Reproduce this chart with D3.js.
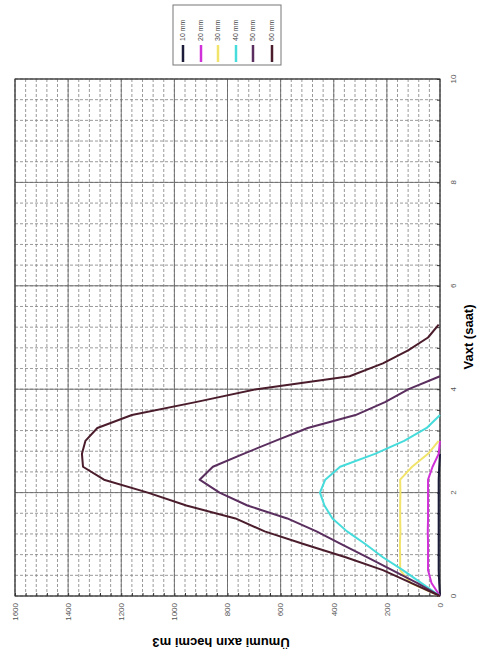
<!DOCTYPE html>
<html><head><meta charset="utf-8">
<script src="https://cdn.jsdelivr.net/npm/d3@7"></script>
<style>body{margin:0;background:#fff}svg{display:block}</style>
</head><body>
<svg id="c" width="479" height="660"></svg>
<script>
// Data (time in hours, total runoff volume in m3)
const hours = [0,0.25,0.5,0.75,1,1.25,1.5,1.75,2,2.25,2.5,2.75,3,3.25,3.5,3.75,4,4.25,4.5,4.75,5,5.25];
const s1 = [0,3,5,5,5,5,5,5,5,5,3,0,null,null,null,null,null,null,null,null,null,null];
const s2 = [0,32,45,45,45,46,45,45,45,45,28,5,0,null,null,null,null,null,null,null,null,null];
const s3 = [0,110,150,150,151,149,150,150,149,150,105,45,5,null,null,null,null,null,null,null,null,null];
const s4 = [0,70,140,215,280,350,405,435,452,432,376,245,135,50,0,null,null,null,null,null,null,null];
const s5 = [0,85,180,275,370,465,575,725,830,905,855,740,620,498,318,207,118,0,null,null,null,null];
const s6 = [0,107,215,355,511,660,770,955,1100,1265,1344,1348,1335,1290,1160,920,690,340,215,120,45,5];
const seriesNames = ["10 mm","20 mm","30 mm","40 mm","50 mm","60 mm"];
const seriesColors = ["#1c1c3a","#d030d8","#f2e46a","#46dcdc","#5a2e5e","#4a1c2c"];
const volumeTicks = [0,200,400,600,800,1000,1200,1400,1600];
const timeTicks = [0,2,4,6,8,10];

const series = [s1,s2,s3,s4,s5,s6];
const svg = d3.select("#c");
const L=15, R=440, T=79, B=596;
const x = d3.scaleLinear().domain([0,1600]).range([R,L]);   // volume
const y = d3.scaleLinear().domain([0,10]).range([B,T]);     // time

const minorV = d3.range(0,1600.1,40);
const minorT = d3.range(0,10.01,0.4);
const g = svg.append("g");
// minor grid
g.selectAll(".mv").data(minorV).join("line")
  .attr("x1",d=>x(d)).attr("x2",d=>x(d)).attr("y1",T).attr("y2",B)
  .attr("stroke","#808080").attr("stroke-width",0.8).attr("stroke-dasharray","3,2");
g.selectAll(".mt").data(minorT).join("line")
  .attr("y1",d=>y(d)).attr("y2",d=>y(d)).attr("x1",L).attr("x2",R)
  .attr("stroke","#808080").attr("stroke-width",0.8).attr("stroke-dasharray","3,2");
// major grid
g.selectAll(".Mv").data(volumeTicks).join("line")
  .attr("x1",d=>x(d)).attr("x2",d=>x(d)).attr("y1",T).attr("y2",B)
  .attr("stroke","#666").attr("stroke-width",0.9);
g.selectAll(".Mt").data(timeTicks).join("line")
  .attr("y1",d=>y(d)).attr("y2",d=>y(d)).attr("x1",L).attr("x2",R)
  .attr("stroke","#666").attr("stroke-width",0.9);

// axes (ticks inward)
const axB = svg.append("g").attr("transform",`translate(0,${B})`)
  .call(d3.axisBottom(x).tickValues(minorV).tickSize(-3).tickFormat(""));
axB.select(".domain").remove();
const axR = svg.append("g").attr("transform",`translate(${R},0)`)
  .call(d3.axisRight(y).tickValues(minorT).tickSize(-3).tickFormat(""));
axR.select(".domain").remove();
svg.selectAll(".tick line").attr("stroke","#333");

// frame
svg.append("rect").attr("x",L).attr("y",T).attr("width",R-L).attr("height",B-T)
  .attr("fill","none").attr("stroke","#333").attr("stroke-width",1);

// tick labels
svg.selectAll(".vl").data(volumeTicks).join("text")
  .attr("transform",d=>`translate(${x(d)},603) rotate(-90)`)
  .attr("text-anchor","end").attr("dy","0.35em")
  .attr("font-family","Liberation Sans, Arial, sans-serif").attr("font-size",8)
  .attr("fill","#555").text(d=>d);
svg.selectAll(".tl").data(timeTicks).join("text")
  .attr("transform",d=>`translate(453,${y(d)}) rotate(-90)`)
  .attr("text-anchor","middle").attr("dy","0.35em")
  .attr("font-family","Liberation Sans, Arial, sans-serif").attr("font-size",8)
  .attr("fill","#555").text(d=>d);

// lines
const line = d3.line().defined(d=>d[1]!==null).x(d=>x(d[1])).y(d=>y(d[0]));
series.forEach((s,i)=>{
  svg.append("path").datum(hours.map((h,j)=>[h,s[j]]))
    .attr("d",line).attr("fill","none").attr("stroke",seriesColors[i])
    .attr("stroke-width",2).attr("stroke-linejoin","round");
});

// axis titles
svg.append("text").attr("transform","translate(468,337) rotate(-90)")
  .attr("text-anchor","middle").attr("dy","0.35em")
  .attr("font-family","Liberation Sans, Arial, sans-serif").attr("font-weight","bold")
  .attr("font-size",13).text("Vaxt (saat)");
svg.append("text").attr("transform","translate(221,643) rotate(180)")
  .attr("text-anchor","middle").attr("dy","0.35em")
  .attr("font-family","Liberation Sans, Arial, sans-serif").attr("font-weight","bold")
  .attr("font-size",13).text("Ümumi axın həcmi m3");

// legend
const lg = svg.append("g");
lg.append("rect").attr("x",173).attr("y",5).attr("width",108).attr("height",60)
  .attr("fill","#fff").attr("stroke","#777").attr("stroke-width",1);
const lx = [183,201,218,236,253,272];
seriesNames.forEach((n,i)=>{
  lg.append("line").attr("x1",lx[i]).attr("x2",lx[i]).attr("y1",45).attr("y2",62)
    .attr("stroke",seriesColors[i]).attr("stroke-width",2.5);
  lg.append("text").attr("transform",`translate(${lx[i]},41) rotate(-90)`)
    .attr("text-anchor","start").attr("dy","0.35em")
    .attr("font-family","Liberation Sans, Arial, sans-serif").attr("font-size",7)
    .attr("fill","#444").text(n);
});
</script>
</body></html>
